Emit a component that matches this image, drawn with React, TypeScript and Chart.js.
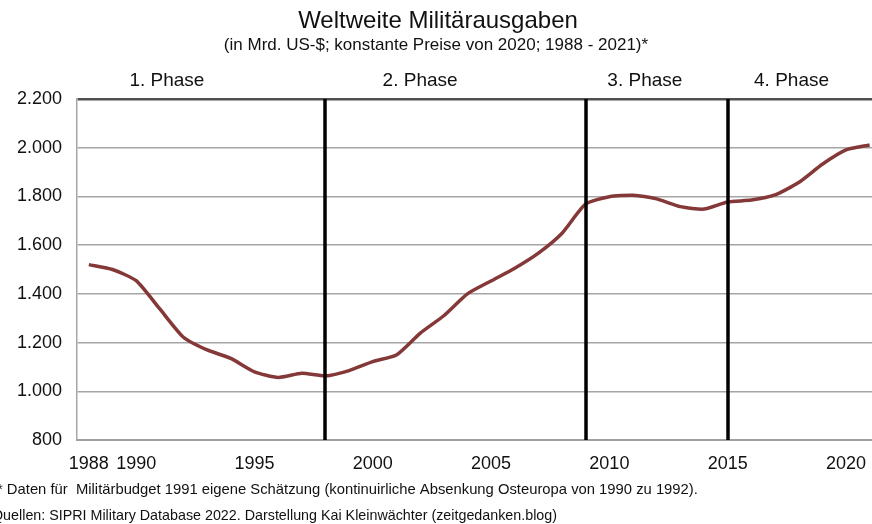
import React, { useEffect, useRef } from "react";
import { Chart, registerables } from "chart.js";

Chart.register(...registerables);

const YEARS = [
  1988, 1989, 1990, 1991, 1992, 1993, 1994, 1995, 1996, 1997, 1998, 1999,
  2000, 2001, 2002, 2003, 2004, 2005, 2006, 2007, 2008, 2009, 2010, 2011,
  2012, 2013, 2014, 2015, 2016, 2017, 2018, 2019, 2020, 2021,
];
const SPENDING = [
  1520, 1500, 1454, 1338, 1222, 1170, 1135, 1080, 1057, 1074, 1063, 1085,
  1122, 1149, 1238, 1310, 1400, 1453, 1505, 1567, 1649, 1769, 1799, 1805,
  1790, 1758, 1748, 1777, 1785, 1806, 1857, 1932, 1991, 2011,
];
const X_TICKS = [1988, 1990, 1995, 2000, 2005, 2010, 2015, 2020];
const Y_MIN = 800;
const Y_MAX = 2200;
const Y_STEP = 200;
const PHASE_BOUNDARIES = [1998, 2009, 2015];
const PHASE_LABELS = ["1. Phase", "2. Phase", "3. Phase", "4. Phase"];
const PHASE_LABEL_YEARS = [1991.3, 2002, 2011.5, 2017.7];
const TITLE = "Weltweite Militärausgaben";
const SUBTITLE = "(in Mrd. US-$; konstante Preise von 2020; 1988 - 2021)*";
const FOOTNOTES = [
  "* Daten für  Militärbudget 1991 eigene Schätzung (kontinuirliche Absenkung Osteuropa von 1990 zu 1992).",
  "Quellen: SIPRI Military Database 2022. Darstellung Kai Kleinwächter (zeitgedanken.blog)",
];

const FONT = "'Liberation Sans', Arial, sans-serif";

const fmt = (v: number) =>
  String(Math.round(v)).replace(/\B(?=(\d{3})+(?!\d))/g, ".");

const decorPlugin = {
  id: "decor",
  afterDatasetsDraw(chart: any) {
    const { ctx, chartArea, scales } = chart;
    const xs = scales.x;
    ctx.save();
    ctx.strokeStyle = "#000000";
    ctx.lineWidth = 3.5;
    PHASE_BOUNDARIES.forEach((yr) => {
      const px = Math.round(xs.getPixelForValue(yr));
      ctx.beginPath();
      ctx.moveTo(px, chartArea.top);
      ctx.lineTo(px, chartArea.bottom);
      ctx.stroke();
    });
    ctx.restore();
  },
  afterDraw(chart: any) {
    const { ctx, scales } = chart;
    const xs = scales.x;
    ctx.save();
    ctx.fillStyle = "#111111";
    ctx.textBaseline = "alphabetic";
    ctx.textAlign = "center";
    ctx.font = `24px ${FONT}`;
    ctx.fillText(TITLE, 438, 28);
    ctx.font = `17px ${FONT}`;
    ctx.fillText(SUBTITLE, 436, 50);
    ctx.font = `19px ${FONT}`;
    PHASE_LABELS.forEach((lbl, i) => {
      ctx.fillText(lbl, xs.getPixelForValue(PHASE_LABEL_YEARS[i]), 86);
    });
    ctx.textAlign = "left";
    ctx.font = `14.8px ${FONT}`;
    ctx.fillText(FOOTNOTES[0], -3, 494);
    ctx.font = `14.3px ${FONT}`;
    ctx.fillText(FOOTNOTES[1], -8, 520);
    ctx.restore();
  },
};

export default function App() {
  const ref = useRef<HTMLCanvasElement | null>(null);

  useEffect(() => {
    if (!ref.current) return;
    const chart = new Chart(ref.current, {
      type: "line",
      data: {
        datasets: [
          {
            label: "Militärausgaben",
            data: YEARS.map((y, i) => ({ x: y, y: SPENDING[i] })),
            borderColor: "#843838",
            borderWidth: 3.5,
            pointRadius: 0,
            tension: 0.2,
            fill: false,
          },
        ],
      },
      options: {
        animation: false,
        responsive: false,
        devicePixelRatio: 1,
        layout: { padding: { top: 99, bottom: 50, left: 0, right: 0 } },
        plugins: {
          legend: { display: false },
          title: { display: false },
          tooltip: { enabled: false },
        },
        scales: {
          x: {
            type: "linear",
            min: 1987.5,
            max: 2021.1,
            afterBuildTicks: (axis: any) => {
              axis.ticks = X_TICKS.map((v) => ({ value: v }));
            },
            afterFit: (scale: any) => {
              scale.height = 34;
              scale.paddingLeft = 0;
              scale.paddingRight = 0;
            },
            grid: { display: false, drawTicks: false },
            border: { display: true, color: "#a0a0a0", width: 2 },
            ticks: {
              autoSkip: false,
              maxRotation: 0,
              padding: 13,
              color: "#111111",
              font: { family: FONT, size: 18 },
              callback: (v: any) => String(v),
            },
          },
          y: {
            min: Y_MIN,
            max: Y_MAX,
            afterFit: (scale: any) => {
              scale.width = 77;
              scale.paddingTop = 0;
              scale.paddingBottom = 0;
            },
            grid: {
              drawTicks: false,
              color: (c: any) => (c.tick && c.tick.value === Y_MAX ? "#505050" : "#a6a6a6"),
              lineWidth: (c: any) => (c.tick && c.tick.value === Y_MAX ? 2.5 : 1.5),
            },
            border: { display: true, color: "#a6a6a6", width: 1.5 },
            ticks: {
              stepSize: Y_STEP,
              padding: 15,
              color: "#111111",
              font: { family: FONT, size: 18 },
              callback: (v: any) => fmt(Number(v)),
            },
          },
        },
      },
      plugins: [decorPlugin],
    });
    return () => chart.destroy();
  }, []);

  return (
    <div style={{ position: "absolute", left: 0, top: 0, width: 872, height: 524, background: "#ffffff" }}>
      <canvas ref={ref} width={872} height={524} />
    </div>
  );
}
